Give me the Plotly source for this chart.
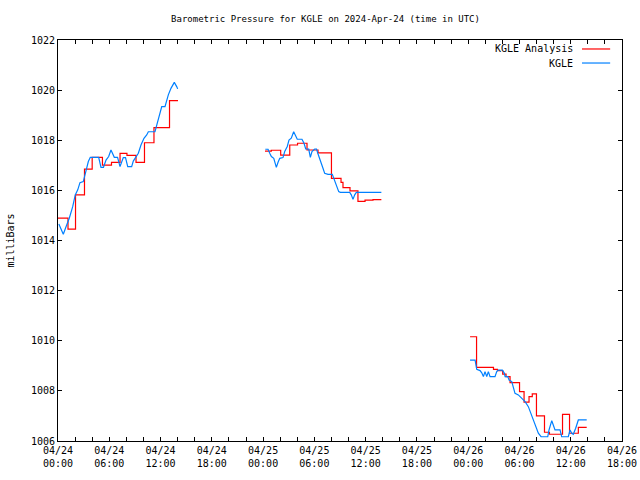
import plotly.graph_objects as go
import pandas as pd

BASE = pd.Timestamp("2024-04-24 00:00")

# KGLE Analysis (hourly analysis, drawn as steps); hours since 2024-04-24 00:00 UTC
analysis_hours = [
    0.0, 1.17, 2.05, 3.1, 4.0, 5.2, 6.26, 7.26, 8.07, 9.13, 10.12, 11.23, 13.05, 14.04,
    None,
    24.22, 24.96, 26.06, 27.12, 28.03, 29.14, 30.43, 32.0, 33.12, 33.35, 34.17, 35.1, 35.93, 36.86, 37.84,
    None,
    48.22, 48.98, 50.96, 51.43, 52.04, 52.43, 52.9, 54.01, 54.54, 55.12, 55.5, 55.99, 56.93, 57.51,
    59.04, 59.86, 60.89, 61.87,
]
analysis_mb = [
    1014.89, 1014.45, 1015.82, 1016.85, 1017.32, 1017.01, 1017.12, 1017.48, 1017.40, 1017.12, 1017.90, 1018.50, 1019.58, 1019.58,
    None,
    1017.57, 1017.60, 1017.41, 1017.81, 1017.88, 1017.61, 1017.50, 1016.48, 1016.32, 1016.11, 1015.98, 1015.56, 1015.61, 1015.63, 1015.63,
    None,
    1010.16, 1008.94, 1008.86, 1008.81, 1008.67, 1008.57, 1008.33, 1007.97, 1007.55, 1007.77, 1007.88, 1007.00, 1006.35, 1006.27,
    1007.06, 1006.31, 1006.54, 1006.54,
]

# KGLE observations
obs_hours = [
    0.1, 0.62, 0.94, 1.32, 1.72, 2.02, 2.31, 2.57, 2.96, 3.28, 3.55, 3.78, 4.45, 4.76, 5.03, 5.32, 5.62, 5.93,
    6.2, 6.59, 6.97, 7.26, 7.64, 7.9, 8.16, 8.62, 8.81, 9.09, 9.4, 9.71, 10.06, 10.38, 10.57, 11.35, 11.74,
    12.14, 12.52, 12.91, 13.22, 13.61, 13.89, 14.0,
    None,
    24.26, 24.58, 24.78, 24.97, 25.25, 25.44, 25.55, 25.75, 25.95, 26.33, 26.53, 26.83, 27.03, 27.3, 27.58,
    27.82, 28.0, 28.55, 28.79, 28.99, 29.34, 29.53, 29.72, 30.04, 30.25, 30.43, 30.63, 30.81, 31.01, 31.21,
    31.6, 32.1, 32.26, 32.45, 32.57, 32.85, 33.04, 34.14, 34.32, 34.52, 34.72, 34.91, 37.84,
    None,
    48.22, 48.81, 49.0, 49.39, 49.59, 49.78, 49.97, 50.17, 50.36, 50.56, 51.14, 51.34, 51.53, 52.0, 52.24,
    52.32, 52.63, 52.79, 53.1, 53.29, 53.48, 53.87, 54.27, 54.66, 55.04, 55.36, 55.62, 55.91, 56.21, 56.53,
    57.31, 57.46, 57.78, 57.96, 58.16, 58.75, 58.94, 59.72, 59.92, 60.12, 60.3, 60.58, 60.89, 61.87,
]
obs_mb = [
    1014.66, 1014.25, 1014.55, 1014.89, 1015.35, 1015.82, 1016.02, 1016.31, 1016.35, 1016.75, 1017.15, 1017.32, 1017.32, 1017.32, 1016.92, 1016.92, 1017.21, 1017.35,
    1017.61, 1017.32, 1017.32, 1016.95, 1017.31, 1017.31, 1016.95, 1016.95, 1017.17, 1017.31, 1017.48, 1017.81, 1018.08, 1018.21, 1018.34, 1018.34, 1018.81,
    1019.34, 1019.34, 1019.81, 1020.07, 1020.31, 1020.14, 1020.05,
    None,
    1017.64, 1017.64, 1017.48, 1017.35, 1017.28, 1017.08, 1016.92, 1017.12, 1017.28, 1017.31, 1017.55, 1017.75, 1018.01, 1018.08, 1018.34,
    1018.17, 1018.04, 1018.04, 1017.88, 1017.65, 1017.65, 1017.32, 1017.55, 1017.65, 1017.65, 1017.45, 1017.28, 1017.08, 1016.88, 1016.68,
    1016.64, 1016.64, 1016.48, 1016.35, 1016.15, 1015.95, 1015.92, 1015.92, 1015.82, 1015.64, 1015.82, 1015.92, 1015.92,
    None,
    1009.23, 1009.23, 1008.86, 1008.81, 1008.72, 1008.57, 1008.77, 1008.57, 1008.77, 1008.57, 1008.57, 1008.77, 1008.83, 1008.83, 1008.70,
    1008.57, 1008.57, 1008.43, 1008.37, 1008.17, 1007.90, 1007.84, 1007.70, 1007.57, 1007.37, 1007.10, 1006.84, 1006.57, 1006.31, 1006.17,
    1006.17, 1006.44, 1006.81, 1006.64, 1006.44, 1006.44, 1006.17, 1006.17, 1006.44, 1006.31, 1006.27, 1006.51, 1006.84, 1006.84,
]

y_ticks = [1006, 1008, 1010, 1012, 1014, 1016, 1018, 1020, 1022]


def to_time(hours):
    return [None if h is None else BASE + pd.Timedelta(hours=h) for h in hours]


FONT = "DejaVu Sans Mono"
RED = "#ff0000"
BLUE = "#0080ff"

fig = go.Figure()
fig.add_trace(go.Scatter(x=to_time(analysis_hours), y=analysis_mb, mode="lines",
                         line=dict(color=RED, width=1.2, shape="hv"),
                         name="KGLE Analysis", connectgaps=False, showlegend=False))
fig.add_trace(go.Scatter(x=to_time(obs_hours), y=obs_mb, mode="lines",
                         line=dict(color=BLUE, width=1.2),
                         name="KGLE", connectgaps=False, showlegend=False))

# gnuplot-style key: text right-aligned, sample line on the right
legend_items = [("KGLE Analysis", RED, 0.9776), ("KGLE", BLUE, 0.9426)]
for text, color, yp in legend_items:
    fig.add_annotation(x=0.917, y=yp, xref="paper", yref="paper", text=text,
                       showarrow=False, xanchor="right", yanchor="middle",
                       font=dict(family=FONT, size=10, color="black"))
    fig.add_shape(type="line", xref="paper", yref="paper", x0=0.929, x1=0.979,
                  y0=yp, y1=yp, line=dict(color=color, width=1.2))

fig.update_layout(
    width=640, height=480,
    margin=dict(l=58, r=18, t=40, b=39, autoexpand=False),
    paper_bgcolor="white", plot_bgcolor="white",
    font=dict(family=FONT, size=10, color="black"),
    title=dict(text="Barometric Pressure for KGLE on 2024-Apr-24 (time in UTC)",
               x=(168 + 483) / 2 / 640, xref="container", xanchor="center",
               y=1 - 19 / 480, yref="container", yanchor="middle",
               font=dict(family=FONT, size=9, color="black"), automargin=False),
    showlegend=False,
)
fig.update_xaxes(
    type="date", automargin=False,
    range=[BASE, BASE + pd.Timedelta(hours=66)],
    dtick=6 * 3600 * 1000, tick0=BASE,
    tickformat="%m/%d<br>%H:%M",
    ticks="inside", ticklen=4, tickcolor="black",
    minor=dict(dtick=2 * 3600 * 1000, ticks="inside", ticklen=4, tickcolor="black", showgrid=False),
    showline=True, linecolor="black", linewidth=1, mirror="ticks",
    showgrid=False, zeroline=False,
    tickfont=dict(family=FONT, size=10),
)
fig.update_yaxes(
    automargin=False,
    range=[1006, 1022], tickvals=y_ticks,
    ticks="inside", ticklen=4, tickcolor="black",
    showline=True, linecolor="black", linewidth=1, mirror="ticks",
    showgrid=False, zeroline=False,
    title=dict(text="milliBars", standoff=14, font=dict(family=FONT, size=10)),
    tickfont=dict(family=FONT, size=10),
)

# remove the browser's default 8px body margin so the 640x480 figure fills the window
fig.write_html("out.html", config={"displayModeBar": False},
               post_script="document.body.style.margin='0';")
